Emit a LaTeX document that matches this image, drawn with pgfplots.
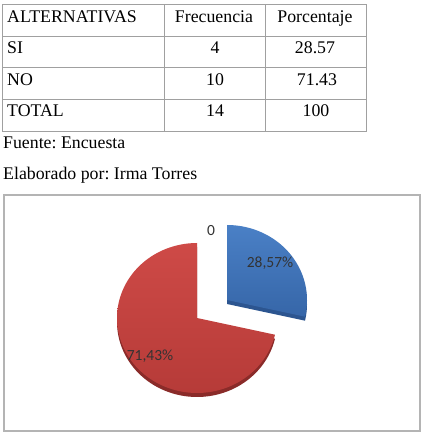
\documentclass[border=0pt]{standalone}
\usepackage{pgfplots}
\usepackage{pgfplotstable}
\pgfplotsset{compat=1.18}
\usepackage{fontspec}
\setmainfont{Liberation Serif}
\newfontfamily\calibri{Carlito}
\frenchspacing
\definecolor{gridgray}{HTML}{A0A0A0}
\definecolor{boxgray}{HTML}{B4B4B4}
\definecolor{blueA}{HTML}{4A80C6}
\definecolor{blueB}{HTML}{3666A8}
\definecolor{blueRim}{HTML}{2C5590}
\definecolor{redA}{HTML}{CE4A47}
\definecolor{redB}{HTML}{B63B38}
\definecolor{redRim}{HTML}{8A2B29}
\pgfplotstableread{
cat val
SI 4
NO 10
}\datatable
\pgfplotstablegetelem{0}{val}\of\datatable \let\vSI\pgfplotsretval
\pgfplotstablegetelem{1}{val}\of\datatable \let\vNO\pgfplotsretval
\pgfmathsetmacro\total{\vSI+\vNO}
\pgfmathsetmacro\aSI{90-360*\vSI/\total}
\begin{document}
\begin{tikzpicture}[x=1bp,y=1bp]
\begin{axis}[x=1bp,y=1bp,xmin=0,xmax=424,ymin=0,ymax=439,
  hide axis, clip=false, anchor=origin, at={(0,0)}]
% chart frame
\draw[boxgray, line width=1.5bp, fill=white] (axis cs:4,8) rectangle (axis cs:420,244);
% red slice rim and top
\addplot[draw=none, fill=redRim, domain=-270:\aSI, samples=90, variable=\t, forget plot]
  ({197+80*cos(\t)}, {117+75*sin(\t)}) -- (axis cs:197,117) -- cycle;
\addplot[draw=none, top color=redA, bottom color=redB, domain=-270:\aSI, samples=90, variable=\t, forget plot]
  ({197+80*cos(\t)}, {121+75*sin(\t)}) -- (axis cs:197,121) -- cycle;
% blue slice rim and top
\addplot[draw=none, fill=blueRim, domain=\aSI:90, samples=50, variable=\t, forget plot]
  ({227+80*cos(\t)}, {135+75*sin(\t)}) -- (axis cs:227,135) -- cycle;
\addplot[draw=none, top color=blueA, bottom color=blueB, domain=\aSI:90, samples=50, variable=\t, forget plot]
  ({227+80*cos(\t)}, {139+75*sin(\t)}) -- (axis cs:227,139) -- cycle;
% labels
\node[font=\calibri\fontsize{15.5bp}{18bp}\selectfont, text=black!80] at (axis cs:211,208) {0};
\node[font=\calibri\fontsize{15.5bp}{18bp}\selectfont, text=black!80] at (axis cs:270,176) {28,57\%};
\node[font=\calibri\fontsize{15.5bp}{18bp}\selectfont, text=black!80] at (axis cs:150,83) {71,43\%};
% table grid
\draw[gridgray, line width=1bp] (axis cs:2,434) rectangle (axis cs:366,307);
\draw[gridgray, line width=1bp] (axis cs:2,402) -- (axis cs:366,402);
\draw[gridgray, line width=1bp] (axis cs:2,371) -- (axis cs:366,371);
\draw[gridgray, line width=1bp] (axis cs:2,339) -- (axis cs:366,339);
\draw[gridgray, line width=1bp] (axis cs:164,434) -- (axis cs:164,307);
\draw[gridgray, line width=1bp] (axis cs:265,434) -- (axis cs:265,307);
% table text
\node[font=\fontsize{17.8bp}{21bp}\selectfont, inner sep=0pt, anchor=base west] at (axis cs:7,416) {ALTERNATIVAS};
\node[font=\fontsize{17.8bp}{21bp}\selectfont, inner sep=0pt, anchor=base] at (axis cs:214,416) {Frecuencia};
\node[font=\fontsize{17.8bp}{21bp}\selectfont, inner sep=0pt, anchor=base] at (axis cs:315,416) {Porcentaje};
\node[font=\fontsize{17.8bp}{21bp}\selectfont, inner sep=0pt, anchor=base west] at (axis cs:7,385) {SI};
\node[font=\fontsize{17.8bp}{21bp}\selectfont, inner sep=0pt, anchor=base] at (axis cs:215,385) {4};
\node[font=\fontsize{17.8bp}{21bp}\selectfont, inner sep=0pt, anchor=base] at (axis cs:315,385) {28.57};
\node[font=\fontsize{17.8bp}{21bp}\selectfont, inner sep=0pt, anchor=base west] at (axis cs:7,353) {NO};
\node[font=\fontsize{17.8bp}{21bp}\selectfont, inner sep=0pt, anchor=base] at (axis cs:215,353) {10};
\node[font=\fontsize{17.8bp}{21bp}\selectfont, inner sep=0pt, anchor=base] at (axis cs:317,353) {71.43};
\node[font=\fontsize{17.8bp}{21bp}\selectfont, inner sep=0pt, anchor=base west] at (axis cs:7,322) {TOTAL};
\node[font=\fontsize{17.8bp}{21bp}\selectfont, inner sep=0pt, anchor=base] at (axis cs:215,322) {14};
\node[font=\fontsize{17.8bp}{21bp}\selectfont, inner sep=0pt, anchor=base] at (axis cs:316,322) {100};
\node[font=\fontsize{17.8bp}{21bp}\selectfont, inner sep=0pt, anchor=base west] at (axis cs:3,290) {Fuente: Encuesta};
\node[font=\fontsize{17.8bp}{21bp}\selectfont, inner sep=0pt, anchor=base west] at (axis cs:3,259) {Elaborado por: Irma Torres};
\end{axis}
\path[use as bounding box] (0,0) rectangle (424,439);
\end{tikzpicture}
\end{document}
